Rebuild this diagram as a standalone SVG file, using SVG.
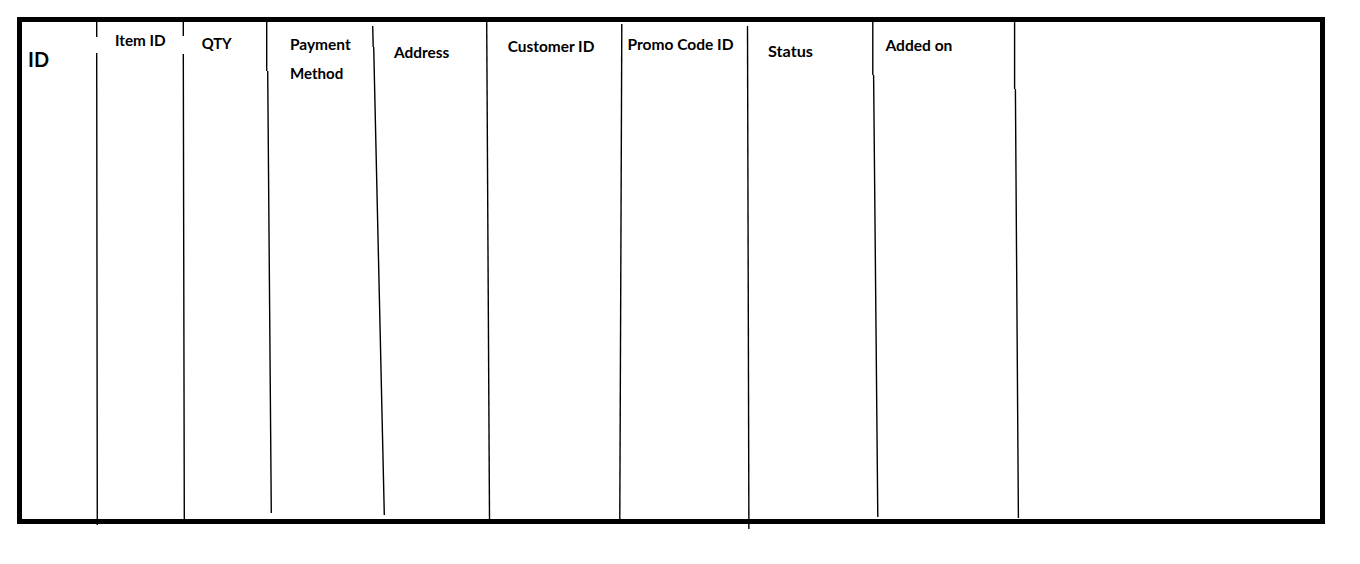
<svg xmlns="http://www.w3.org/2000/svg" width="1360" height="564" viewBox="0 0 1360 564">
<style>
.bg{fill:#ffffff}
.frame{fill:none;stroke:#000;stroke-width:5}
.col{fill:none;stroke:#000;stroke-width:1.4}
.h{font-family:Lato,"Open Sans","Liberation Sans",sans-serif;font-weight:bold;font-size:15px;fill:#000}
.big{font-size:21px}
</style>
<rect class="bg" x="0" y="0" width="1360" height="564"/>
<g id="table">
<rect class="frame" x="19.5" y="19.5" width="1303" height="502"/>
</g>
<g id="connectors">
<path class="col" d="M96.7,22 V37 M96.7,53 L97.3,525"/>
<path class="col" d="M183.3,22 V36 M183.3,54 L184.3,519"/>
<path class="col" d="M266.7,22 V71 M267.7,71 L271.3,513"/>
<path class="col" d="M372.7,26 L373.2,47 M373.7,47 L384.3,515"/>
<path class="col" d="M486.7,22 L489.5,519"/>
<path class="col" d="M621.8,24 L619.8,519"/>
<path class="col" d="M747.5,26 L748.9,529"/>
<path class="col" d="M872.8,22 V75 M873.6,75 L877.8,517"/>
<path class="col" d="M1014.6,22 V89 M1015.4,89 L1018.4,518"/>
</g>
<g id="col-id"><text class="h big" x="28" y="67" textLength="21" lengthAdjust="spacingAndGlyphs">ID</text></g>
<g id="col-item-id"><text class="h" x="115" y="46" textLength="50.7" lengthAdjust="spacingAndGlyphs">Item ID</text></g>
<g id="col-qty"><text class="h" x="201.7" y="49" textLength="30" lengthAdjust="spacingAndGlyphs">QTY</text></g>
<g id="col-payment-method"><text class="h" x="290" y="50" textLength="60.7" lengthAdjust="spacingAndGlyphs">Payment</text><text class="h" x="290" y="79" textLength="53.3" lengthAdjust="spacingAndGlyphs">Method</text></g>
<g id="col-address"><text class="h" x="394" y="57.7" textLength="55.3" lengthAdjust="spacingAndGlyphs">Address</text></g>
<g id="col-customer-id"><text class="h" x="507.7" y="52.3" textLength="86.7" lengthAdjust="spacingAndGlyphs">Customer ID</text></g>
<g id="col-promo-code-id"><text class="h" x="627.5" y="50" textLength="106" lengthAdjust="spacingAndGlyphs">Promo Code ID</text></g>
<g id="col-status"><text class="h" x="768" y="57.3" textLength="45" lengthAdjust="spacingAndGlyphs">Status</text></g>
<g id="col-added-on"><text class="h" x="885.4" y="51" textLength="67" lengthAdjust="spacingAndGlyphs">Added on</text></g>
</svg>
